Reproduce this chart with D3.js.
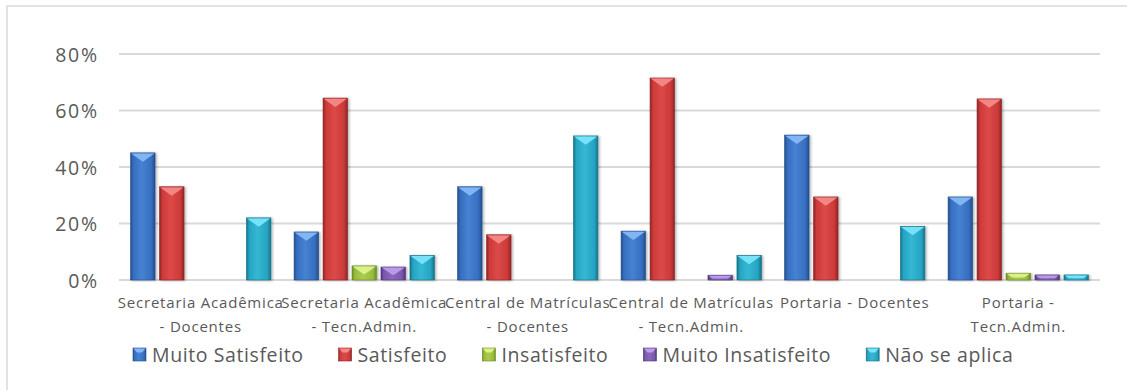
<!DOCTYPE html>
<html>
<head>
<meta charset="utf-8">
<script src="https://cdn.jsdelivr.net/npm/d3@7"></script>
<style>
  html, body { margin: 0; padding: 0; background: #fff; }
  svg { display: block; font-family: "Open Sans", Lato, sans-serif; }
</style>
</head>
<body>
<svg id="chart" width="1127" height="390"></svg>
<script>
// Satisfaction survey: share of answers per service and respondent group
const categories = [
  "Secretaria Acadêmica\n- Docentes",
  "Secretaria Acadêmica\n- Tecn.Admin.",
  "Central de Matrículas\n- Docentes",
  "Central de Matrículas\n- Tecn.Admin.",
  "Portaria - Docentes",
  "Portaria -\nTecn.Admin."
];
const seriesNames = ["Muito Satisfeito", "Satisfeito", "Insatisfeito", "Muito Insatisfeito", "Não se aplica"];
const muitoSatisfeito   = [0.45, 0.17, 0.33, 0.173, 0.513, 0.294];
const satisfeito        = [0.33, 0.644, 0.16, 0.715, 0.294, 0.641];
const insatisfeito      = [0, 0.05, 0, 0, 0, 0.024];
const muitoInsatisfeito = [0, 0.046, 0, 0.017, 0, 0.018];
const naoSeAplica       = [0.22, 0.087, 0.51, 0.087, 0.19, 0.018];
const yTicks = [0, 0.2, 0.4, 0.6, 0.8];

const seriesValues = [muitoSatisfeito, satisfeito, insatisfeito, muitoInsatisfeito, naoSeAplica];

// bevel palette per series: edge (dark), mid (body), light (body highlight), cap (top facet)
const palette = [
  { edge: "#234e8c", mid: "#376ec0", light: "#4682d2", cap: "#86b8f4" },
  { edge: "#8e2424", mid: "#cc3a3a", light: "#dc4a48", cap: "#f48a88" },
  { edge: "#6a8a22", mid: "#98bc3e", light: "#aacc50", cap: "#dcf28c" },
  { edge: "#4e3678", mid: "#7a58ac", light: "#8a68bc", cap: "#bc9cec" },
  { edge: "#157388", mid: "#26a4c2", light: "#34b8d4", cap: "#7ae4fa" }
];

const svg = d3.select("#chart");
const defs = svg.append("defs");

palette.forEach((p, i) => {
  const g = defs.append("linearGradient").attr("id", "grad" + i)
    .attr("x1", "0").attr("x2", "1").attr("y1", "0").attr("y2", "0");
  g.append("stop").attr("offset", "0").attr("stop-color", p.edge);
  g.append("stop").attr("offset", "0.12").attr("stop-color", p.mid);
  g.append("stop").attr("offset", "0.45").attr("stop-color", p.light);
  g.append("stop").attr("offset", "0.85").attr("stop-color", p.mid);
  g.append("stop").attr("offset", "1").attr("stop-color", p.edge);
});

const shadow = defs.append("filter").attr("id", "shadow")
  .attr("x", "-20%").attr("y", "-10%").attr("width", "150%").attr("height", "130%");
shadow.append("feDropShadow").attr("dx", 1.5).attr("dy", 0.5)
  .attr("stdDeviation", 1.2).attr("flood-color", "#000").attr("flood-opacity", 0.3);

// chart frame (only left and top edges fall inside the view)
svg.append("rect")
  .attr("x", 7).attr("y", 6).attr("width", 1140).attr("height", 400)
  .attr("fill", "none").attr("stroke", "#d9d9d9").attr("stroke-width", 1.5);

const plot = { left: 119, right: 1100, top: 54, bottom: 280 };

const x0 = d3.scaleBand().domain(d3.range(categories.length))
  .range([plot.left, plot.right]).paddingInner(0).paddingOuter(0);
const x1 = d3.scaleBand().domain(d3.range(seriesNames.length))
  .range([0, x0.bandwidth()]).paddingInner(0.155).paddingOuter(0.4);
const y = d3.scaleLinear().domain([0, 0.8]).range([plot.bottom, plot.top]);

// gridlines
svg.append("g").selectAll("line").data(yTicks).join("line")
  .attr("x1", plot.left).attr("x2", plot.right)
  .attr("y1", d => y(d)).attr("y2", d => y(d))
  .attr("stroke", "#d9d9d9").attr("stroke-width", 1.8);

// y axis labels
const yAxis = d3.axisLeft(y).tickValues(yTicks).tickFormat(d3.format(".0%")).tickSize(0).tickPadding(0);
const yg = svg.append("g").attr("transform", "translate(99,0)").call(yAxis);
yg.select(".domain").remove();
yg.selectAll("text").attr("font-size", 19.5).attr("fill", "#595959")
  .attr("letter-spacing", 1.8)
  .attr("font-family", "'Open Sans', sans-serif").attr("dy", "0.36em");

// bars
const bars = [];
categories.forEach((c, ci) => {
  seriesValues.forEach((vals, si) => {
    if (vals[ci] > 0) bars.push({ ci, si, v: vals[ci] });
  });
});

const barG = svg.append("g");
const bg = barG.selectAll("g.bar").data(bars).join("g").attr("class", "bar")
  .attr("filter", "url(#shadow)");

bg.append("rect")
  .attr("x", d => x0(d.ci) + x1(d.si))
  .attr("y", d => y(d.v))
  .attr("width", x1.bandwidth())
  .attr("height", d => y(0) - y(d.v))
  .attr("fill", d => `url(#grad${d.si})`)
  .attr("stroke", d => palette[d.si].edge)
  .attr("stroke-width", 0.6);

// top facet of each bevelled bar
bg.append("path")
  .attr("d", d => {
    const xl = x0(d.ci) + x1(d.si) + 0.6;
    const xr = x0(d.ci) + x1(d.si) + x1.bandwidth() - 0.6;
    const yt = y(d.v) + 0.6;
    const h = y(0) - y(d.v);
    const depth = Math.min(8, h * 0.55);
    const inset = Math.min(x1.bandwidth() / 2 - 1, depth * 1.5);
    return `M${xl},${yt} L${xr},${yt} L${xr - inset},${yt + depth} L${xl + inset},${yt + depth} Z`;
  })
  .attr("fill", d => palette[d.si].cap)
  .attr("opacity", 0.95);

// category labels
const catG = svg.append("g");
categories.forEach((c, ci) => {
  const cx = x0(ci) + x0.bandwidth() / 2;
  const t = catG.append("text").attr("text-anchor", "middle")
    .attr("font-size", 15).attr("letter-spacing", 0.8).attr("fill", "#595959");
  c.split("\n").forEach((line, li) => {
    t.append("tspan").attr("x", cx).attr("y", 308 + li * 24).text(line);
  });
});

// legend
const legend = svg.append("g");
let lx = 133;
seriesNames.forEach((name, si) => {
  const p = palette[si];
  const item = legend.append("g");
  item.append("rect").attr("x", lx).attr("y", 348).attr("width", 13).attr("height", 13)
    .attr("fill", `url(#grad${si})`).attr("stroke", p.edge).attr("stroke-width", 0.6);
  item.append("path")
    .attr("d", `M${lx + 0.5},${348.5} L${lx + 12.5},${348.5} L${lx + 9},${352.5} L${lx + 4},${352.5} Z`)
    .attr("fill", p.cap);
  const txt = item.append("text").attr("x", lx + 19).attr("y", 362)
    .attr("font-size", 19.5).attr("letter-spacing", 0.6).attr("fill", "#595959").text(name);
  const w = txt.node().getComputedTextLength();
  lx += 19 + w + 35;
});
</script>
</body>
</html>
